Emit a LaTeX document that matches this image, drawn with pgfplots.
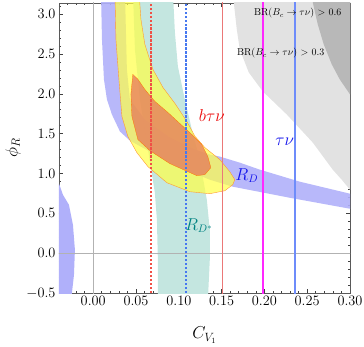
\documentclass[border=0pt]{standalone}
\usepackage{pgfplots}
\pgfplotsset{compat=1.18}

\definecolor{rdblue}{RGB}{176,176,250}
\definecolor{rdsteal}{RGB}{196,230,224}
\definecolor{ylw}{RGB}{255,255,70}
\definecolor{org}{RGB}{230,120,90}
\definecolor{gray3}{RGB}{226,226,226}
\definecolor{gray6}{RGB}{184,184,184}
\definecolor{lred}{RGB}{240,80,70}
\definecolor{lblue}{RGB}{70,120,240}
\definecolor{lpink}{RGB}{235,120,120}
\definecolor{lmag}{RGB}{255,40,255}
\definecolor{lblue2}{RGB}{110,140,250}
\definecolor{tealtxt}{RGB}{0,130,130}

\begin{document}
\begin{tikzpicture}
\begin{axis}[
    scale only axis,
    width=291bp, height=290bp,
    xmin=-0.04, xmax=0.30,
    ymin=-0.5, ymax=3.14159,
    xtick={0,0.05,...,0.30},
    ytick={-0.5,0,...,3.0},
    minor xtick={-0.03,-0.02,...,0.295},
    minor ytick={-0.4,-0.3,...,3.15},
    tick align=inside,
    major tick length=4bp,
    minor tick length=2bp,
    axis line style={black!65, line width=0.9pt},
    every tick/.style={black!75, line width=0.7pt},
    xticklabel style={/pgf/number format/.cd, fixed, fixed zerofill, precision=2},
    yticklabel style={/pgf/number format/.cd, fixed, fixed zerofill, precision=1},
    tick label style={font=\fontsize{14}{15}\selectfont},
    xlabel={$C_{V_1}$},
    ylabel={$\phi_R$},
    label style={font=\fontsize{17}{18}\selectfont},
    xlabel style={at={(axis description cs:0.5,-0.145)}, anchor=center},
    ylabel style={at={(axis description cs:-0.158,0.5)}, anchor=center},
    clip=true,
]
% BR(Bc -> tau nu) > 0.3
\addplot[fill=gray3, draw=none] coordinates {
 (0.1635,3.3) (0.1642,3.15) (0.1677,2.812) (0.1712,2.560) (0.1817,2.270)
 (0.1981,2.031) (0.2261,1.742) (0.2565,1.389) (0.2798,1.049) (0.2903,0.923)
 (0.30,0.797) (0.31,0.78) (0.31,3.3)} -- cycle;
% BR(Bc -> tau nu) > 0.6
\addplot[fill=gray6, draw=none] coordinates {
 (0.2560,3.3) (0.2565,3.15) (0.2623,2.875) (0.2693,2.623) (0.2787,2.371)
 (0.2880,2.183) (0.30,1.994) (0.31,1.98) (0.31,3.3)} -- cycle;
% R_D*
\addplot[fill=rdsteal, draw=none] coordinates {
 (0.0463,3.3) (0.0487,2.560) (0.0545,1.931) (0.0639,1.301) (0.0720,0.760)
 (0.0744,0.42) (0.0755,-0.08) (0.0755,-0.6) (0.1339,-0.6) (0.1362,-0.08)
 (0.1362,0.29) (0.1327,0.671) (0.1245,1.175) (0.1152,1.553) (0.1070,1.931)
 (0.0989,2.346) (0.0954,2.775) (0.0930,3.3)} -- cycle;
% R_D (upper branch)
\addplot[fill=rdblue, fill opacity=0.9, draw=none] coordinates {
 (0.0090,3.3) (0.0102,2.686) (0.0125,2.183) (0.0160,1.931) (0.0218,1.742)
 (0.0312,1.528) (0.0428,1.414) (0.0662,1.276) (0.1012,1.074) (0.1362,0.923)
 (0.1630,0.835) (0.2296,0.696) (0.30,0.558) (0.31,0.54) (0.31,0.735)
 (0.30,0.747) (0.2413,0.898) (0.1946,1.049) (0.1712,1.137) (0.1479,1.213)
 (0.1362,1.238) (0.1187,1.301) (0.0895,1.452) (0.0603,1.679) (0.0428,1.931)
 (0.0393,2.308) (0.0370,3.3)} -- cycle;
% R_D (lower branch)
\addplot[fill=rdblue, draw=none] coordinates {
 (-0.05,0.90) (-0.0400,0.873) (-0.0354,0.734) (-0.0284,0.608) (-0.0237,0.356)
 (-0.0214,0.042) (-0.0225,-0.273) (-0.0249,-0.5) (-0.0249,-0.6) (-0.05,-0.6)} -- cycle;
% b tau nu (yellow)
\addplot[fill=ylw, fill opacity=0.7, draw=orange!80, line width=0.4pt] coordinates {
 (0.0253,3.3) (0.0265,2.686) (0.0300,2.183) (0.0335,1.717) (0.0405,1.465)
 (0.0510,1.263) (0.0639,1.087) (0.0860,0.885) (0.1129,0.772) (0.1362,0.747)
 (0.1537,0.784) (0.1630,0.860) (0.1654,0.923) (0.1595,1.024) (0.1479,1.175)
 (0.1304,1.326) (0.1187,1.470) (0.1094,1.654) (0.0954,1.881) (0.0814,2.082)
 (0.0697,2.308) (0.0603,2.623) (0.0557,2.938) (0.0534,3.3)} -- cycle;
% combined (orange)
\addplot[fill=org, fill opacity=0.75, draw=orange!90!red, line width=0.3pt] coordinates {
 (0.0463,2.245) (0.0522,2.183) (0.0603,2.056) (0.0720,1.906) (0.0872,1.767)
 (0.1012,1.628) (0.1152,1.490) (0.1269,1.364) (0.1339,1.213) (0.1374,1.074)
 (0.1304,0.986) (0.1210,0.974) (0.0895,1.125) (0.0662,1.288) (0.0522,1.427)
 (0.0452,1.717) (0.0440,1.994)} -- cycle;
% axes through origin
\addplot[black!30, line width=0.5pt] coordinates {(0,-0.6) (0,3.3)};
\addplot[black!30, line width=0.5pt] coordinates {(-0.05,0) (0.31,0)};
% vertical bounds
\addplot[lred, line width=1.5pt, dash pattern=on 2.5pt off 1.5pt] coordinates {(0.0673,-0.6) (0.0673,3.3)};
\addplot[lblue, line width=1.5pt, dash pattern=on 2.5pt off 1.5pt] coordinates {(0.1082,-0.6) (0.1082,3.3)};
\addplot[lpink, line width=1.3pt] coordinates {(0.1510,-0.6) (0.1510,3.3)};
\addplot[lmag, line width=1.6pt] coordinates {(0.1981,-0.6) (0.1981,3.3)};
\addplot[lblue2, line width=1.3pt] coordinates {(0.2358,-0.6) (0.2358,3.3)};
% labels
\node[font=\fontsize{10}{11}\selectfont] at (axis cs:0.2389,3.014) {BR($B_c\to\tau\nu$) $>$ 0.6};
\node[font=\fontsize{10}{11}\selectfont] at (axis cs:0.2191,2.511) {BR($B_c\to\tau\nu$) $>$ 0.3};
\node[font=\fontsize{17}{18}\selectfont, text={rgb,255:red,235;green,10;blue,10}] at (axis cs:0.1386,1.729) {$b\tau\nu$};
\node[font=\fontsize{17}{18}\selectfont, text={rgb,255:red,20;green,20;blue,235}] at (axis cs:0.2238,1.402) {$\tau\nu$};
\node[font=\fontsize{16}{17}\selectfont, text={rgb,255:red,20;green,20;blue,235}] at (axis cs:0.1794,0.974) {$R_D$};
\node[font=\fontsize{16}{17}\selectfont, text=tealtxt] at (axis cs:0.1234,0.344) {$R_{D^*}$};
\end{axis}
\pgfresetboundingbox
\path (current axis.south west) ++(-59bp,-54bp) rectangle ([shift={(14bp,3bp)}]current axis.north east);
\end{tikzpicture}
\end{document}
